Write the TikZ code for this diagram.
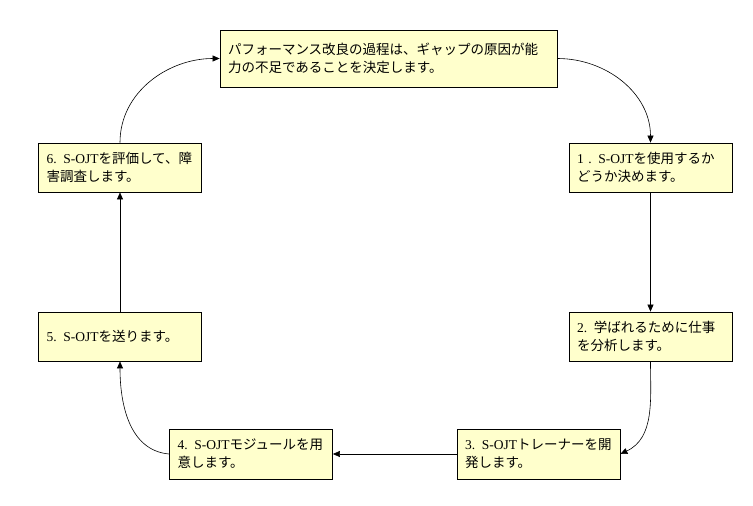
\documentclass[tikz,border=0pt]{standalone}
\usepackage{fontspec}
\setmainfont{Liberation Serif}
\newfontfamily\jpfont{Noto Sans CJK JP}
\newcommand{\J}[1]{{\jpfont #1}}
\usetikzlibrary{arrows.meta}
\definecolor{boxfill}{RGB}{255,255,204}
\begin{document}
\begin{tikzpicture}[x=1pt,y=-1pt,
  stepbox/.style={draw=black, line width=0.8pt, fill=boxfill, align=left,
    inner xsep=8pt, inner ysep=0pt, font=\fontsize{13.5}{18}\selectfont},
  smallbox/.style={stepbox, text width=147pt, minimum height=49pt},
  conn/.style={draw=black, line width=0.6pt, -{Triangle[length=7pt,width=6pt]}}]
\useasboundingbox (0,0) rectangle (753,506);
\node[stepbox, text width=321pt, minimum height=57pt] (top) at (388.5,58.5)
  {\J{パフォーマンス改良の過程は、ギャップの原因が能}\\\J{力の不足であることを決定します。}};
\node[smallbox] (b1) at (650.5,167.5) {1 . S-OJT\J{を使用するか}\\\J{どうか決めます。}};
\node[smallbox] (b2) at (650.5,336.5) {2. \J{学ばれるために仕事}\\\J{を分析します。}};
\node[smallbox, minimum height=50pt] (b3) at (538.5,454) {3. S-OJT\J{トレーナーを開}\\\J{発します。}};
\node[smallbox, minimum height=50pt] (b4) at (251,454) {4. S-OJT\J{モジュールを用}\\\J{意します。}};
\node[smallbox] (b5) at (120,336.5) {5. S-OJT\J{を送ります。}};
\node[smallbox] (b6) at (120,167.5) {6. S-OJT\J{を評価して、障}\\\J{害調査します。}};
\draw[conn] (top.east) to[out=0,in=90] (b1.north);
\draw[conn] (b1.south) -- (b2.north);
\draw[conn] (b2.south) to[out=-90,in=25] (b3.east);
\draw[conn] (b3.west) -- (b4.east);
\draw[conn] (b4.west) to[out=175,in=-90] (b5.south);
\draw[conn] (b5.north) -- (b6.south);
\draw[conn] (b6.north) to[out=90,in=180] (top.west);
\end{tikzpicture}
\end{document}
